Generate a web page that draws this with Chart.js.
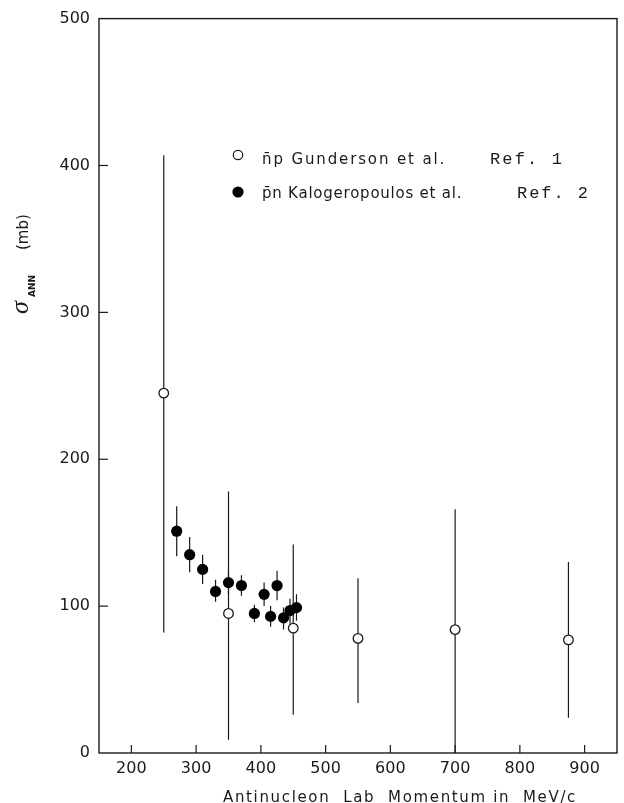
<!DOCTYPE html>
<html>
<head>
<meta charset="utf-8">
<script src="https://cdn.jsdelivr.net/npm/chart.js@4.4.0/dist/chart.umd.min.js"></script>
<style>
  html, body { margin: 0; padding: 0; background: #fff; }
  #wrap { width: 624px; height: 803px; }
</style>
</head>
<body>
<div id="wrap"><canvas id="myChart"></canvas></div>
<script>
// nbar-p, Gunderson et al. (open circles)
const npMomentum = [250, 350, 450, 550, 700, 875];
const npSigma    = [245, 95, 85, 78, 84, 77];
const npLow      = [82, 9, 26, 34, 0, 24];
const npHigh     = [407, 178, 142, 119, 166, 130];

// pbar-n, Kalogeropoulos et al. (filled circles)
const pnMomentum = [270, 290, 310, 330, 350, 370, 390, 405, 415, 425, 435, 445, 455];
const pnSigma    = [151, 135, 125, 110, 116, 114, 95, 108, 93, 114, 92, 97, 99];
const pnLow      = [134, 123, 115, 103, 108, 107, 89, 100, 86, 104, 84, 88, 90];
const pnHigh     = [168, 147, 135, 118, 124, 121, 101, 116, 100, 124, 99, 105, 108];

const xTicks = [200, 300, 400, 500, 600, 700, 800, 900];
const yTicks = [0, 100, 200, 300, 400, 500];

const ink = '#1a1a1a';

// draw text stretched to a given width with letter spacing
function fitText(ctx, text, x, y, width) {
  ctx.letterSpacing = '0px';
  const w = ctx.measureText(text).width;
  const n = [...text].length;
  ctx.letterSpacing = ((width - w) / n) + 'px';
  ctx.fillText(text, x, y);
  ctx.letterSpacing = '0px';
}

const errorBars = {
  id: 'errorBars',
  beforeDatasetsDraw(chart) {
    const { ctx, chartArea, scales: { x, y } } = chart;
    ctx.save();
    ctx.beginPath();
    ctx.rect(chartArea.left, chartArea.top, chartArea.width, chartArea.height);
    ctx.clip();
    ctx.strokeStyle = ink;
    ctx.lineWidth = 1.2;
    const draw = (xs, lo, hi) => {
      xs.forEach((v, i) => {
        const px = x.getPixelForValue(v);
        ctx.beginPath();
        ctx.moveTo(px, y.getPixelForValue(lo[i]));
        ctx.lineTo(px, y.getPixelForValue(hi[i]));
        ctx.stroke();
      });
    };
    draw(npMomentum, npLow, npHigh);
    draw(pnMomentum, pnLow, pnHigh);
    ctx.restore();
  }
};

const frame = {
  id: 'frame',
  afterDraw(chart) {
    const { ctx, chartArea: a, scales: { x, y } } = chart;
    ctx.save();
    ctx.strokeStyle = ink;
    ctx.lineWidth = 1.4;
    ctx.strokeRect(a.left, a.top, a.width, a.height);

    // inward tick marks
    ctx.lineWidth = 1.2;
    xTicks.forEach(v => {
      const px = x.getPixelForValue(v);
      ctx.beginPath();
      ctx.moveTo(px, a.bottom);
      ctx.lineTo(px, a.bottom - 8);
      ctx.stroke();
    });
    yTicks.slice(1, -1).forEach(v => {
      const py = y.getPixelForValue(v);
      ctx.beginPath();
      ctx.moveTo(a.left, py);
      ctx.lineTo(a.left + 9, py);
      ctx.stroke();
    });

    // legend
    ctx.beginPath();
    ctx.arc(238, 155, 4.7, 0, Math.PI * 2);
    ctx.fillStyle = '#fff';
    ctx.fill();
    ctx.stroke();
    ctx.fillStyle = '#000';
    ctx.beginPath();
    ctx.arc(238, 192, 5.6, 0, Math.PI * 2);
    ctx.fill();

    ctx.fillStyle = ink;
    ctx.textBaseline = 'alphabetic';
    ctx.textAlign = 'left';
    ctx.font = '15px "DejaVu Sans"';
    fitText(ctx, 'n\u0304p Gunderson et al.', 262, 164, 186);
    fitText(ctx, 'p\u0304n Kalogeropoulos et al.', 262, 198, 201);
    ctx.font = '17px "Liberation Mono"';
    fitText(ctx, 'Ref. 1', 490, 164, 74);
    fitText(ctx, 'Ref. 2', 517, 198, 73);

    // x axis title
    ctx.font = '15px "DejaVu Sans"';
    fitText(ctx, 'Antinucleon  Lab  Momentum in  MeV/c', 223, 802, 354);

    // y axis title: sigma_ANN (mb)
    ctx.translate(28, 313);
    ctx.rotate(-Math.PI / 2);
    ctx.font = 'italic 26px "Liberation Serif"';
    ctx.fillText('\u03C3', -1, 0);
    ctx.font = 'bold 9px "DejaVu Sans"';
    ctx.fillText('ANN', 16, 7);
    ctx.font = '15px "DejaVu Sans"';
    ctx.fillText('(mb)', 63, 0);
    ctx.restore();
  }
};

new Chart(document.getElementById('myChart'), {
  type: 'scatter',
  data: {
    datasets: [
      {
        label: 'n\u0304p Gunderson et al.',
        data: npMomentum.map((v, i) => ({ x: v, y: npSigma[i] })),
        pointRadius: 4.8,
        pointBackgroundColor: '#fff',
        pointBorderColor: ink,
        pointBorderWidth: 1.3
      },
      {
        label: 'p\u0304n Kalogeropoulos et al.',
        data: pnMomentum.map((v, i) => ({ x: v, y: pnSigma[i] })),
        pointRadius: 5.6,
        pointBackgroundColor: '#000',
        pointBorderColor: '#000',
        pointBorderWidth: 0
      }
    ]
  },
  options: {
    responsive: true,
    maintainAspectRatio: false,
    animation: false,
    layout: { padding: { top: 16, right: 7, left: 0, bottom: 0 } },
    plugins: { legend: { display: false }, tooltip: { enabled: false } },
    scales: {
      x: {
        type: 'linear',
        min: 150,
        max: 950,
        afterBuildTicks: s => { s.ticks = xTicks.map(v => ({ value: v })); },
        afterFit: s => { s.height = 50; },
        grid: { display: false, drawTicks: false },
        border: { display: false },
        ticks: { color: ink, padding: 6, font: { family: 'DejaVu Sans', size: 16 } }
      },
      y: {
        min: 0,
        max: 500,
        afterBuildTicks: s => { s.ticks = yTicks.map(v => ({ value: v })); },
        afterFit: s => { s.width = 99; },
        grid: { display: false, drawTicks: false },
        border: { display: false },
        ticks: { color: ink, padding: 9, font: { family: 'DejaVu Sans', size: 16 } }
      }
    }
  },
  plugins: [errorBars, frame]
});
</script>
</body>
</html>
